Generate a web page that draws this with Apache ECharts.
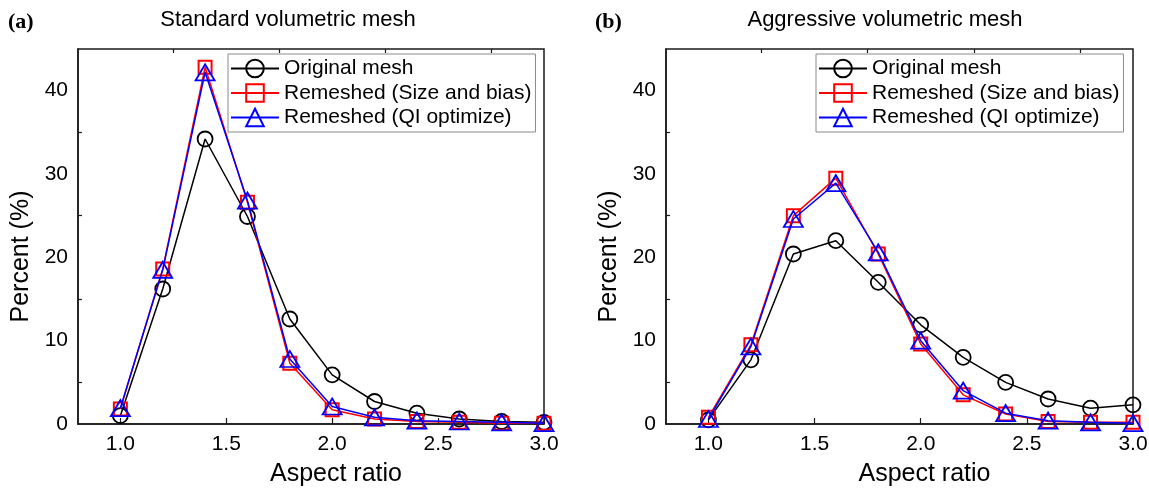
<!DOCTYPE html>
<html><head><meta charset="utf-8">
<script src="https://cdn.jsdelivr.net/npm/echarts@6/dist/echarts.min.js"></script>
<style>html,body{margin:0;padding:0;background:#fff}#c{width:1149px;height:488px}</style>
</head><body><div id="c"></div>
<script>
// ---- data ----
const aspectRatio = [1.0, 1.2, 1.4, 1.6, 1.8, 2.0, 2.2, 2.4, 2.6, 2.8, 3.0];
const seriesNames = ['Original mesh', 'Remeshed (Size and bias)', 'Remeshed (QI optimize)'];
const stdOriginal = [1.0, 16.2, 34.2, 24.9, 12.6, 5.9, 2.7, 1.3, 0.6, 0.3, 0.2];
const stdSizeBias = [1.8, 18.6, 42.8, 26.6, 7.3, 1.7, 0.6, 0.3, 0.2, 0.1, 0.1];
const stdQI       = [1.9, 18.5, 42.2, 26.8, 7.8, 2.1, 0.8, 0.4, 0.3, 0.2, 0.1];
const aggOriginal = [0.5, 7.7, 20.4, 22.0, 17.0, 11.9, 8.0, 5.0, 3.0, 1.9, 2.3];
const aggSizeBias = [0.8, 9.5, 25.0, 29.5, 20.4, 9.6, 3.5, 1.2, 0.3, 0.2, 0.2];
const aggQI       = [0.6, 9.3, 24.6, 28.9, 20.6, 10.0, 4.0, 1.3, 0.4, 0.2, 0.1];
const panelTitles = ['Standard volumetric mesh', 'Aggressive volumetric mesh'];
const panelTags = ['(a)', '(b)'];
const xMajorTicks = [1.0, 1.5, 2.0, 2.5, 3.0];
const xMinorTicks = [1.25, 1.75, 2.25, 2.75];
const yLabelTicks = [0, 10, 20, 30, 40];
const yMinorTicks = [5, 15, 25, 35];
const xAxisName = 'Aspect ratio';
const yAxisName = 'Percent (%)';

// ---- layout / style ----
const FONT = 'Liberation Sans, Arial, sans-serif';
const AX = '#1a1a1a';
const grids = [
  {left: 78, top: 49, width: 466, height: 375},
  {left: 666, top: 49, width: 467, height: 375}
];
const titleX = [288, 885];
const tagX = [8, 595];
const legendX = [228, 816];
const styles = [
  {color: '#000000', symbol: 'circle', size: 15, bw: 1.8},
  {color: '#ff0000', symbol: 'rect', size: 13, bw: 2},
  {color: '#0000ff', symbol: 'triangle', size: [19, 16], bw: 1.8}
];
const panels = [[stdOriginal, stdSizeBias, stdQI], [aggOriginal, aggSizeBias, aggQI]];

const option = {
  animation: false,
  backgroundColor: '#fff',
  textStyle: {fontFamily: FONT},
  title: panelTitles.map((t, i) => ({
    text: t, left: titleX[i], top: 9, textAlign: 'center', padding: 0,
    textStyle: {fontSize: 22, fontWeight: 'normal', color: '#000', fontFamily: FONT}
  })),
  graphic: panelTags.map((t, i) => ({
    type: 'text', left: tagX[i], top: 11,
    style: {text: t, font: 'bold 22px "Liberation Serif", "Times New Roman", serif', fill: '#000'}
  })),
  legend: legendX.map(x => ({
    data: seriesNames, orient: 'vertical', left: x, top: 54,
    itemWidth: 48, itemHeight: 22, itemGap: 3.5,
    padding: [4, 4, 4, 2],
    backgroundColor: '#fff', borderColor: '#8a8a8a', borderWidth: 1, borderRadius: 0,
    textStyle: {fontSize: 21, color: '#000', fontFamily: FONT, padding: [0, 0, 0, 0]},
    selectedMode: false
  })),
  grid: grids.map(g => Object.assign({show: true, borderColor: AX, borderWidth: 1.5, backgroundColor: 'transparent',
    containLabel: false, outerBoundsMode: 'none'}, g)),
  xAxis: [],
  yAxis: [],
  series: []
};

grids.forEach((g, gi) => {
  const xi = option.xAxis.length;
  option.xAxis.push({
    type: 'value', gridIndex: gi, min: 0.8, max: 3.0,
    name: xAxisName, nameLocation: 'middle', nameGap: 38,
    nameTextStyle: {fontSize: 25, color: '#000', fontFamily: FONT, padding: [0, 0, 0, 50]},
    axisLine: {show: true, lineStyle: {color: AX, width: 1.5}},
    axisTick: {show: true, inside: true, length: 6, customValues: xMajorTicks, lineStyle: {color: AX, width: 1.2}},
    axisLabel: {show: true, customValues: xMajorTicks, fontSize: 21, color: '#000', margin: 10,
      formatter: v => Number(v).toFixed(1)},
    splitLine: {show: false}
  });
  option.xAxis.push({
    type: 'value', gridIndex: gi, min: 0.8, max: 3.0,
    axisLine: {show: false},
    axisTick: {show: true, inside: true, length: 4, customValues: xMinorTicks, lineStyle: {color: AX, width: 1.2}},
    axisLabel: {show: false},
    splitLine: {show: false}
  });
  option.yAxis.push({
    type: 'value', gridIndex: gi, min: 0, max: 45,
    name: yAxisName, nameLocation: 'middle', nameGap: 44,
    nameTextStyle: {fontSize: 25, color: '#000', fontFamily: FONT, padding: [0, 40, 0, 0]},
    axisLine: {show: true, lineStyle: {color: AX, width: 1.5}},
    axisTick: {show: true, inside: true, length: 4, customValues: yMinorTicks, lineStyle: {color: AX, width: 1.2}},
    axisLabel: {show: true, customValues: yLabelTicks, fontSize: 21, color: '#000', margin: 10},
    splitLine: {show: false}
  });
  panels[gi].forEach((vals, si) => {
    const s = styles[si];
    option.series.push({
      type: 'line', name: seriesNames[si], xAxisIndex: xi, yAxisIndex: gi,
      data: vals.map((v, k) => [aspectRatio[k], v]),
      color: s.color,
      symbol: s.symbol, symbolSize: s.size, showAllSymbol: true,
      lineStyle: {color: s.color, width: 1.5},
      itemStyle: {color: 'rgba(255,255,255,0)', borderColor: s.color, borderWidth: s.bw},
      z: 2 + si,
      emphasis: {disabled: true}
    });
  });
});

const chart = echarts.init(document.getElementById('c'), null, {renderer: 'canvas'});
chart.setOption(option);
</script>
</body></html>
